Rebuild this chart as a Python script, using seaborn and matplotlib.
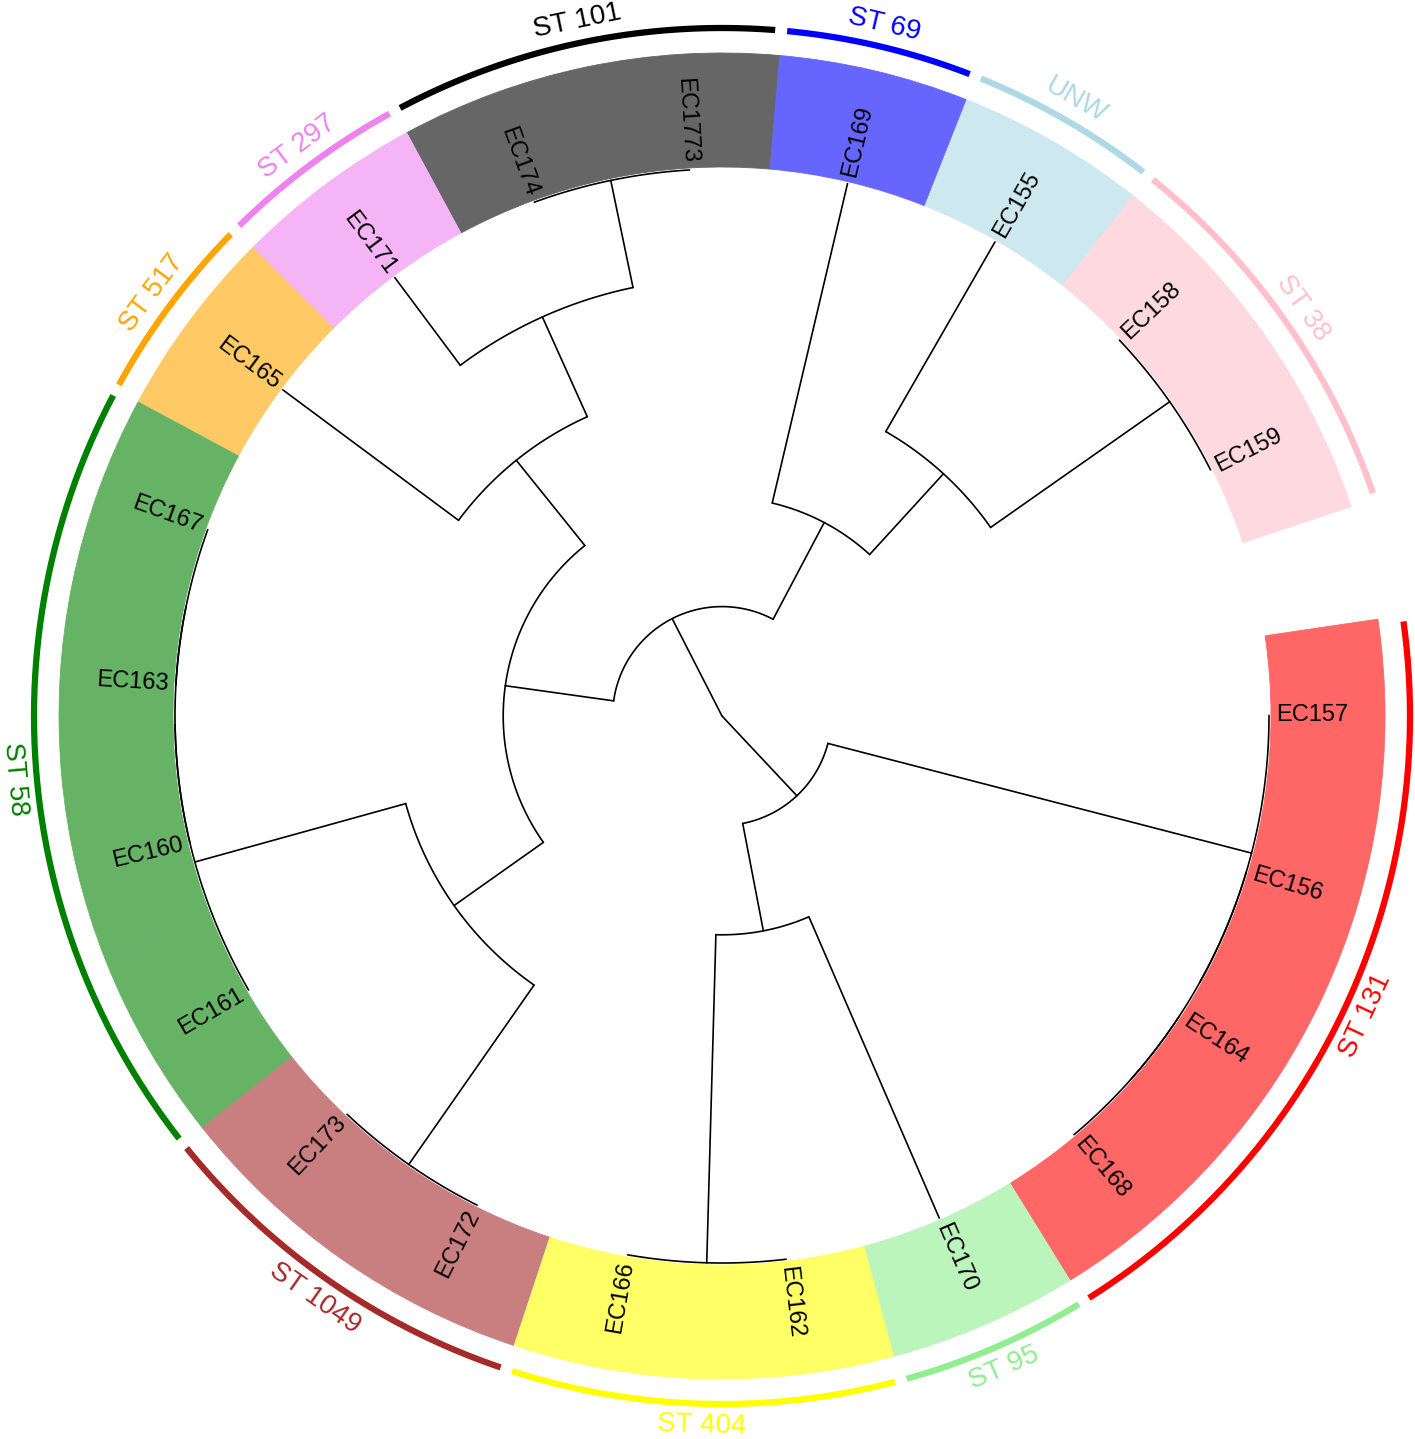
import numpy as np
import pandas as pd
import matplotlib
matplotlib.use("Agg")
import matplotlib.pyplot as plt
import seaborn as sns
from matplotlib.colors import to_rgb

# ========= 1) DATA =========
# tree in Newick, leaves listed counter-clockwise (branch lengths in tree units)
TREE = (
    "(("
    "(((EC159:0,EC158:0):2,EC155:2):1,EC169:3):1,"
    "((((EC1773:0,EC174:0):1,EC171:1):1,EC165:2):1,"
    "((((EC167:0,EC163:0):0,EC160:0):0,EC161:0):2,(EC173:0,EC172:0):2):1):1"
    "):1,("
    "((EC166:0,EC162:0):3,EC170:3):1,"
    "(((EC168:0,EC164:0):0,EC156:0):0,EC157:0):4"
    "):1);"
)

LEAF_ST = {
    "EC159": "ST 38", "EC158": "ST 38", "EC155": "UNW", "EC169": "ST 69",
    "EC1773": "ST 101", "EC174": "ST 101", "EC171": "ST 297", "EC165": "ST 517",
    "EC167": "ST 58", "EC163": "ST 58", "EC160": "ST 58", "EC161": "ST 58",
    "EC173": "ST 1049", "EC172": "ST 1049", "EC166": "ST 404", "EC162": "ST 404",
    "EC170": "ST 95", "EC168": "ST 131", "EC164": "ST 131", "EC156": "ST 131",
    "EC157": "ST 131",
}

ST_NAMES = ["ST 38", "UNW", "ST 69", "ST 101", "ST 297", "ST 517",
            "ST 58", "ST 1049", "ST 404", "ST 95", "ST 131"]
ST_COLORS = ["pink", "lightblue", "blue", "black", "violet", "orange",
             "green", "brown", "yellow", "lightgreen", "red"]

# ========= 2) LAYOUT =========
START_DEG = 18.4      # where the open gap ends
SPAN_DEG = 350.0
R_UNIT = 109.4        # pixels per tree unit
BAND_IN, BAND_OUT = 549, 663
BAND_ALPHA = 0.6
LABEL_R = 554
RING_R = 688
ST_LABEL_R = 710
RMAX = 720
CX, CY = 722, 716
W, H = 1415, 1439


def parse_newick(s):
    pos = 0

    def node():
        nonlocal pos
        children = []
        if s[pos] == "(":
            pos += 1
            children.append(node())
            while s[pos] == ",":
                pos += 1
                children.append(node())
            pos += 1
        start = pos
        while s[pos] not in ",();":
            pos += 1
        name, _, length = s[start:pos].partition(":")
        return {"name": name, "length": float(length or 0), "children": children}

    return node()


root = parse_newick(TREE)
leaves = []


def set_depth(n, d):
    n["depth"] = d + n["length"]
    for c in n["children"]:
        set_depth(c, n["depth"])
    if not n["children"]:
        leaves.append(n)


set_depth(root, 0.0)
step = np.radians(SPAN_DEG / len(leaves))
for i, leaf in enumerate(leaves):
    leaf["theta"] = np.radians(START_DEG) + (i + 0.5) * step


def set_theta(n):
    if n["children"]:
        n["theta"] = np.mean([set_theta(c) for c in n["children"]])
    return n["theta"]


set_theta(root)

# branch segments -> long table
rows = []
seg = 0


def add_segments(n):
    global seg
    if not n["children"]:
        return
    r0 = n["depth"] * R_UNIT
    ths = [c["theta"] for c in n["children"]]
    if r0 > 0:
        for t in np.linspace(min(ths), max(ths), 80):
            rows.append((seg, t, r0))
        seg += 1
    for c in n["children"]:
        r1 = c["depth"] * R_UNIT
        if r1 > r0:
            rows.append((seg, c["theta"], r0))
            rows.append((seg, c["theta"], r1))
            seg += 1
        add_segments(c)


add_segments(root)
branches = pd.DataFrame(rows, columns=["seg", "theta", "r"])

st_color = dict(zip(ST_NAMES, ST_COLORS))
leaf_df = pd.DataFrame({
    "leaf": [l["name"] for l in leaves],
    "theta": [l["theta"] for l in leaves],
})
leaf_df["st"] = leaf_df["leaf"].map(LEAF_ST)


def faded(c):
    # colour at BAND_ALPHA over white, made opaque so neighbouring wedges don't seam
    return tuple(BAND_ALPHA * np.array(to_rgb(c)) + (1 - BAND_ALPHA))


# ST ring arcs
ring_rows = []
pad = np.radians(0.5)
for st in ST_NAMES:
    th = leaf_df.loc[leaf_df["st"] == st, "theta"]
    for t in np.linspace(th.min() - step / 2 + pad, th.max() + step / 2 - pad, 60):
        ring_rows.append((st, t, RING_R))
ring = pd.DataFrame(ring_rows, columns=["st", "theta", "r"])

# ========= 3) PLOT =========
sns.set_style("white")
plt.rcParams["font.family"] = ["Liberation Sans", "DejaVu Sans"]

fig = plt.figure(figsize=(W / 100, H / 100), dpi=100)
ax = fig.add_axes([(CX - RMAX) / W, (H - CY - RMAX) / H, 2 * RMAX / W, 2 * RMAX / H],
                  projection="polar")

# coloured band per leaf
band_cols = [faded(st_color[s]) for s in leaf_df["st"]]
ax.bar(leaf_df["theta"], BAND_OUT - BAND_IN, width=step, bottom=BAND_IN,
       color=band_cols, edgecolor=band_cols, linewidth=0.6)

sns.lineplot(data=branches, x="theta", y="r", units="seg", estimator=None,
             sort=False, color="black", linewidth=1.2, ax=ax)

sns.lineplot(data=ring, x="theta", y="r", hue="st", palette=st_color,
             estimator=None, sort=False, linewidth=4.5, legend=False,
             solid_capstyle="butt", ax=ax)

for _, row in leaf_df.iterrows():
    deg = np.degrees(row["theta"]) % 360
    if 90 < deg < 270:
        rot, ha = deg - 180, "right"
    else:
        rot, ha = (deg if deg <= 90 else deg - 360), "left"
    ax.text(row["theta"], LABEL_R, row["leaf"], rotation=rot, rotation_mode="anchor",
            ha=ha, va="center", fontsize=17, color="black")

for st in ST_NAMES:
    th = leaf_df.loc[leaf_df["st"] == st, "theta"].mean()
    deg = np.degrees(th)
    rot = (deg % 180) - 90
    ax.text(th, ST_LABEL_R, st, rotation=rot, rotation_mode="anchor",
            ha="center", va="center", fontsize=20, color=st_color[st])

ax.set_ylim(0, RMAX)
ax.set_axis_off()

plt.savefig("out.png", dpi=100)
